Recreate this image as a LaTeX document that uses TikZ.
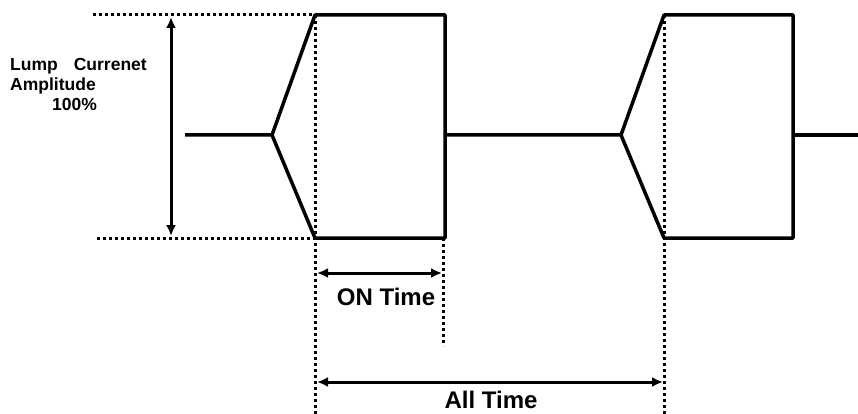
\documentclass[tikz,border=0pt]{standalone}
\usepackage{fontspec}
\setmainfont{Liberation Sans}
\usetikzlibrary{arrows.meta}

\begin{document}
\begin{tikzpicture}[x=1pt,y=-1pt,
  wave/.style={line width=3.5pt,line join=round},
  guide/.style={line width=3pt,dash pattern=on 3pt off 3pt},
  dim/.style={line width=3pt,{Latex[length=11pt,width=10pt]}-{Latex[length=11pt,width=10pt]}},
  lbl/.style={font=\bfseries\fontsize{24}{28}\selectfont,inner sep=0pt}]
  \useasboundingbox (0,0) rectangle (858,414);

  \def\ytop{15}
  \def\ybot{238}
  \def\ymid{135}

  % pulses
  \draw[wave] (185,\ymid) -- (272,\ymid) -- (315,\ytop) -- (445,\ytop)
     -- (445,\ybot) -- (315,\ybot) -- (272,\ymid);
  \draw[wave] (445,\ymid) -- (621,\ymid) -- (664,\ytop) -- (793,\ytop)
     -- (793,\ybot) -- (664,\ybot) -- (621,\ymid);
  \draw[wave] (793,\ymid) -- (858,\ymid);

  % guide lines
  \draw[guide] (93,\ytop) -- (315,\ytop);
  \draw[guide] (97,\ybot) -- (315,\ybot);
  \draw[guide] (315,\ytop) -- (315,414);
  \draw[guide] (443,\ybot) -- (443,346);
  \draw[guide] (664,\ytop) -- (664,414);

  % dimension arrows
  \coordinate (amptop) at (171,17);
  \coordinate (ampbot) at (171,236);
  \coordinate (onL) at (317,273);
  \coordinate (onR) at (442,273);
  \coordinate (allL) at (317,382);
  \coordinate (allR) at (663,382);
  \draw[dim] (amptop) -- (ampbot);
  \draw[dim] (onL) -- (onR);
  \draw[dim] (allL) -- (allR);

  % labels
  \node[font=\bfseries\fontsize{17.5}{20}\selectfont,align=left,anchor=north west,inner sep=0pt]
     (amp) at (10,58) {Lump\hspace{16pt}Currenet\\Amplitude\\\hspace*{42pt}100\%};
  \node[lbl,anchor=base] (ontime) at (386,305) {ON Time};
  \node[lbl,anchor=base] (alltime) at (491,408) {All Time};
\end{tikzpicture}
\end{document}
